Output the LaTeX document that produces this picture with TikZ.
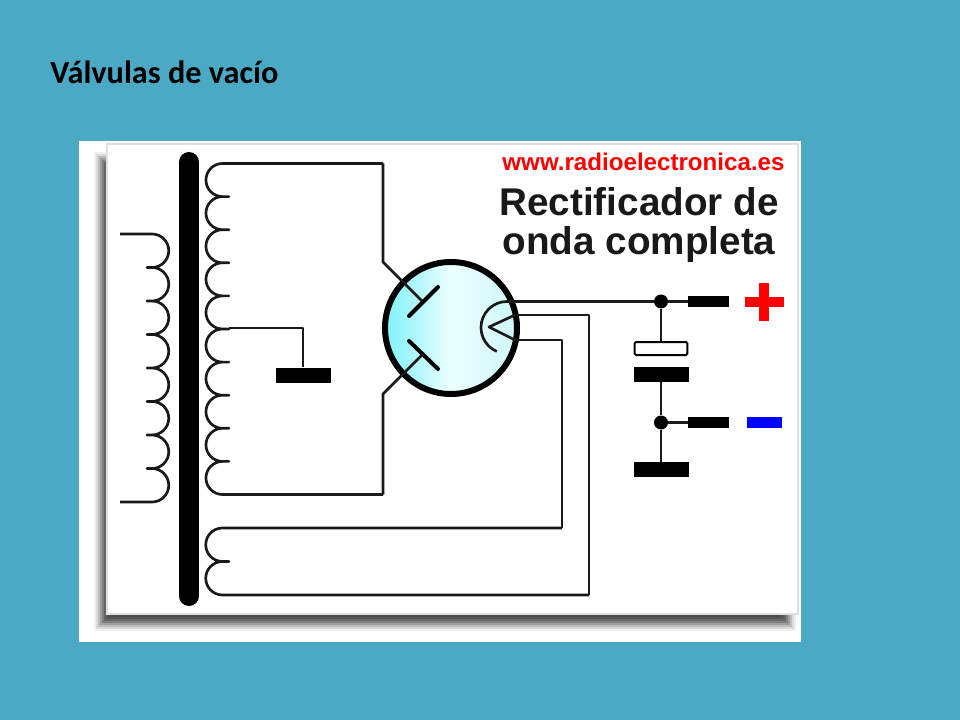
\documentclass[tikz,border=0pt]{standalone}
\usepackage{fontspec}
\setmainfont{Liberation Sans}
\newfontfamily\titlefont{Carlito}
\usetikzlibrary{positioning}
\definecolor{slidebg}{RGB}{75,169,197}
\definecolor{tubeleft}{RGB}{125,243,250}
\definecolor{tubemid}{RGB}{236,255,255}
\definecolor{tuberight}{RGB}{205,247,250}
\tikzset{
	wire/.style={line width=2pt,black!90,line join=round},
	plate/.style={rectangle,fill=black,inner sep=0pt,minimum width=41.25pt,minimum height=11.25pt},
	tab/.style={rectangle,fill=black,inner sep=0pt,minimum width=30.75pt,minimum height=8.25pt},
	dot/.style={circle,fill=black,inner sep=0pt,minimum size=10.5pt},
	electrode/.style={line width=3pt,black,line cap=round},
	sign/.style={rectangle,inner sep=0pt}
}
\begin{document}
\begin{tikzpicture}[x=0.75pt,y=-0.75pt]
	\useasboundingbox (0,0) rectangle (960,720);
	\fill [slidebg] (0,0) rectangle (960,720);
	\node [anchor=base west,inner sep=0pt,font=\titlefont\bfseries,text=black] (title) at (50,84) {\fontsize{24.2pt}{28pt}\selectfont Válvulas de vacío};
	% picture and its shadow
	\fill [white] (79,141) rectangle (801,642);
	\foreach \i/\g in {0/94,1/86,2/74,3/62,4/50,5/40,6/34,7/30}
		\fill [black!\the\numexpr100-\g\relax] (94+2*\i,152+2*\i) rectangle (796-2*\i,631-2*\i);
	\draw [line width=1.2pt,black!12,fill=white] (107,144) rectangle (798,614);
	% core
	\draw [line width=15pt,line cap=round,black] (189,162) -- (189,596);
	% primary
	\coordinate (priin) at (120,234);
	\draw [wire] (priin) -- (152,234)
		\foreach \i in {1,...,7}{ arc (-90:90:16.75) -- ++(-5,0) -- ++(5,0) }
		arc (-90:90:16.75) -- (120,502);
	% secondary
	\coordinate (secend) at (383,163.5);
	\coordinate (secbot) at (383,494.5);
	\coordinate (ctap) at (229,328);
	\draw [wire] (secend) -- (222.5,163.5)
		\foreach \i in {1,...,9}{ arc (-90:-270:16.55) -- ++(6.5,0) -- ++(-6.5,0) }
		arc (-90:-270:16.55) -- (secbot);
	% heater winding
	\coordinate (heatab) at (562,528);
	\coordinate (heatcd) at (589,595);
	\draw [wire] (heatab) -- (222.5,528) arc (-90:-270:16.75) -- ++(6.5,0) -- ++(-6.5,0) arc (-90:-270:16.75) -- (heatcd);
	% tube
	\node [circle,draw=black,line width=4.5pt,inner sep=0pt,minimum size=99pt,left color=tubeleft,right color=tuberight,middle color=tubemid] (tube) at (451,328) {};
	\coordinate (anodea) at (422,301);
	\coordinate (anodeb) at (422,355);
	\coordinate (cathtop) at (507,301.5);
	\coordinate (fila) at (515,315);
	\coordinate (filb) at (515,340);
	\coordinate (filv) at (489,327);
	\draw [wire] (secend) -- (383,262) -- (anodea);
	\draw [wire] (secbot) -- (383,394) -- (anodeb);
	\draw [electrode] (409,316) -- (438,287);
	\draw [electrode] (409,341) -- (438,369);
	\draw [wire] (cathtop) arc (-90:-247:26);
	\draw [wire] (fila) -- (filv) -- (filb);
	\draw [wire] (fila) -| (heatcd);
	\draw [wire] (filb) -| (heatab);
	% centre tap
	\node [plate] (gnd) at (303,375) {};
	\draw [wire] (ctap) -| (gnd.north);
	% output
	\node [dot] (dotp) at (661,301.5) {};
	\node [dot] (dotn) at (661,422.5) {};
	\node [tab] (tabp) at (708.5,301.5) {};
	\node [tab] (tabn) at (708.5,422.5) {};
	\node [plate,fill=white,draw=black,line width=1.5pt,minimum width=39.5pt,minimum height=9.75pt,rounded corners=1pt] (capa) at (661,348.5) {};
	\node [plate] (capb) at (661,374.5) {};
	\node [plate] (bott) at (661,469.5) {};
	\draw [wire] (cathtop) -- (dotp) -- (tabp);
	\draw [wire] (dotp) -- (capa);
	\draw [wire] (capb) -- (dotn) -- (bott);
	\draw [wire] (dotn) -- (tabn);
	% signs
	\node [sign,fill=red,minimum width=29.25pt,minimum height=7.5pt] (plush) at (764.5,302) {};
	\node [sign,fill=red,minimum width=7.5pt,minimum height=28.5pt] (plusv) at (764,302) {};
	\node [sign,fill=blue,minimum width=26.25pt,minimum height=8.25pt] (minus) at (764.5,422.5) {};
	% labels
	\node [anchor=base,font=\bfseries,text=red,inner sep=0pt] (web) at (643.5,171) {\fontsize{18.1pt}{22pt}\selectfont www.radioelectronica.es};
	\node [anchor=base,font=\bfseries,text=black!90,inner sep=0pt] (head) at (639,216) {\fontsize{29pt}{34pt}\selectfont Rectificador de};
	\node [anchor=base,font=\bfseries,text=black!90,inner sep=0pt] (headb) at (639,255) {\fontsize{29pt}{34pt}\selectfont onda completa};
\end{tikzpicture}
\end{document}
